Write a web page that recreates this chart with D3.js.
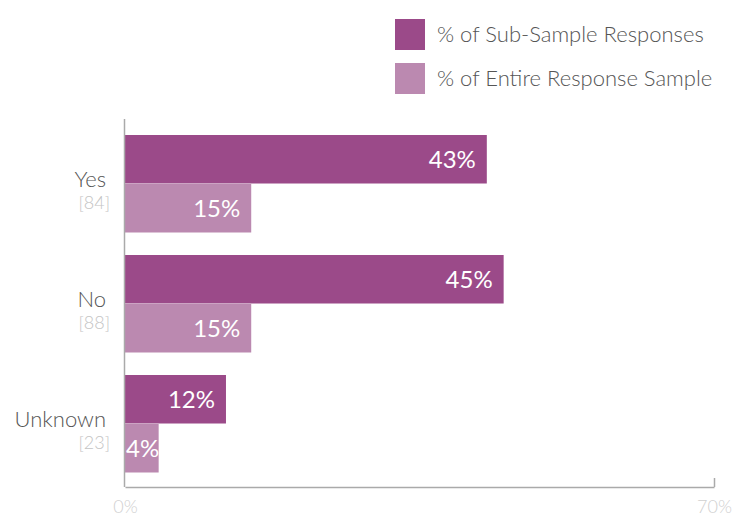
<!DOCTYPE html>
<html>
<head>
<meta charset="utf-8">
<script src="https://cdn.jsdelivr.net/npm/d3@7"></script>
<style>
  html, body { margin: 0; padding: 0; background: #fff; }
  svg { display: block; font-family: Lato, "Open Sans", sans-serif; }
</style>
</head>
<body>
<svg id="chart" width="743" height="522"></svg>
<script>
// Responses grouped by answer
const categories = ["Yes", "No", "Unknown"];
const counts = [84, 88, 23];
const seriesNames = ["% of Sub-Sample Responses", "% of Entire Response Sample"];
const subSample = [43, 45, 12];
const entireSample = [15, 15, 4];
const axisTickLabels = ["0%", "70%"];
const axisDomain = [0, 70];

const colors = ["#9b4a89", "#bb89b0"];
const series = [subSample, entireSample];

const svg = d3.select("#chart");

const x = d3.scaleLinear().domain(axisDomain).range([125, 714]);
const y0 = d3.scaleBand()
  .domain(categories)
  .range([123.75, 483.75])
  .paddingInner(0.1875)
  .paddingOuter(0.09375);
const y1 = d3.scaleBand()
  .domain(d3.range(series.length))
  .range([0, y0.bandwidth()])
  .paddingInner(0.01);

// Legend
const legend = svg.append("g");
seriesNames.forEach((name, i) => {
  const g = legend.append("g").attr("transform", `translate(395, ${19 + i * 44})`);
  g.append("rect").attr("width", 30).attr("height", 31).attr("fill", colors[i]);
  g.append("text")
    .attr("x", 42).attr("y", 23)
    .attr("font-size", 22)
    .attr("font-weight", 300)
    .attr("fill", "#555")
    .text(name);
});

// Bars
const groups = svg.append("g").selectAll("g")
  .data(categories)
  .join("g")
  .attr("transform", d => `translate(0, ${y0(d)})`);

series.forEach((vals, si) => {
  groups.append("rect")
    .attr("x", x(0))
    .attr("y", y1(si))
    .attr("width", (d, i) => x(vals[categories.indexOf(d)]) - x(0))
    .attr("height", y1.bandwidth())
    .attr("fill", colors[si]);

  groups.append("text")
    .attr("y", y1(si) + y1.bandwidth() / 2 + 9)
    .attr("font-size", 24)
    .attr("fill", "#fff")
    .attr("text-anchor", "end")
    .text(d => vals[categories.indexOf(d)] + "%")
    .each(function(d) {
      const v = vals[categories.indexOf(d)];
      const w = this.getComputedTextLength();
      const xe = Math.max(x(v) - 11, x(0) + w + 1);
      d3.select(this).attr("x", xe);
    });
});

// Category labels with response counts
groups.append("text")
  .attr("x", 106)
  .attr("y", y0.bandwidth() / 2 + 3)
  .attr("text-anchor", "end")
  .attr("font-size", 22)
  .attr("font-weight", 300)
  .attr("fill", "#555")
  .text(d => d);

groups.append("text")
  .attr("x", 110)
  .attr("y", y0.bandwidth() / 2 + 25)
  .attr("text-anchor", "end")
  .attr("font-size", 18)
  .attr("font-weight", 300)
  .attr("fill", "#c4c4c4")
  .text((d, i) => `[${counts[i]}]`);

// Axes
svg.append("line")
  .attr("x1", x(0) - 0.5).attr("x2", x(0) - 0.5)
  .attr("y1", 119).attr("y2", 487)
  .attr("stroke", "#aaa").attr("stroke-width", 1.5);

const xAxis = d3.axisBottom(x)
  .tickValues(axisDomain)
  .tickFormat((d, i) => axisTickLabels[i])
  .tickSize(-9)
  .tickSizeOuter(0);

const ax = svg.append("g")
  .attr("transform", "translate(0, 487)")
  .call(xAxis);
ax.select(".domain").attr("stroke", "#aaa").attr("stroke-width", 1.5);
ax.selectAll(".tick line").attr("stroke", "#aaa").attr("stroke-width", 1.5);
ax.selectAll(".tick text")
  .attr("dy", null)
  .attr("y", 26)
  .attr("font-size", 18)
  .attr("font-weight", 300)
  .attr("font-family", "Lato, sans-serif")
  .attr("fill", "#d0d0d0");
ax.selectAll(".tick").filter(d => d === 0).select("line").remove();
</script>
</body>
</html>
